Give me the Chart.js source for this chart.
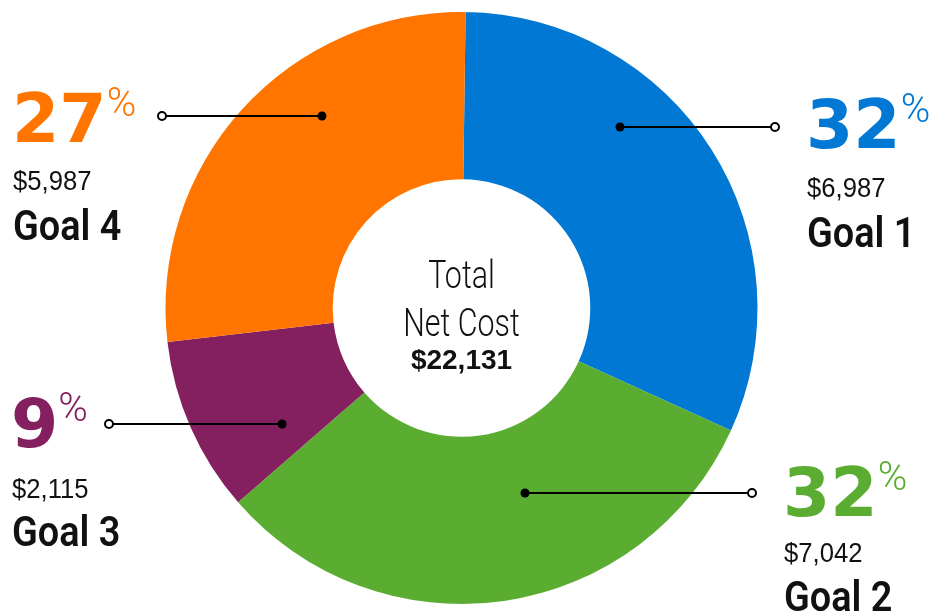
<!DOCTYPE html>
<html>
<head>
<meta charset="utf-8">
<script src="https://cdn.jsdelivr.net/npm/chart.js@4.4.1/dist/chart.umd.min.js"></script>
<style>
  html, body { margin: 0; padding: 0; background: #fff; }
  #wrap { width: 936px; height: 616px; }
</style>
</head>
<body>
<div id="wrap"><canvas id="goalChart" width="936" height="616"></canvas></div>
<script>
// data
const goals = ['Goal 1', 'Goal 2', 'Goal 3', 'Goal 4'];
const netCost = [6987, 7042, 2115, 5987];
const pctLabels = [32, 32, 9, 27];
const colors = ['#0078d4', '#5bad32', '#842060', '#ff7500'];

// where each callout sits (pixels on the canvas)
const callouts = [
    { x: 806, pctBase: 148, amtBase: 197, nameBase: 247, dot: [620, 127], ring: [775, 127] },
    { x: 783, pctBase: 516, amtBase: 562, nameBase: 611, dot: [525, 493], ring: [752, 493] },
    { x: 11, pctBase: 447, amtBase: 498, nameBase: 546, dot: [282, 424], ring: [109, 424] },
    { x: 12, pctBase: 142, amtBase: 190, nameBase: 240, dot: [322, 116], ring: [162, 116] }
];

const total = netCost.reduce((a, b) => a + b, 0);
const money = v => '$' + v.toLocaleString('en-US');

// draws text squeezed horizontally (the original uses a condensed face)
function squeezed(ctx, text, x, y, sx) {
    ctx.save();
    ctx.translate(x, y);
    ctx.scale(sx, 1);
    ctx.fillText(text, 0, 0);
    ctx.restore();
}

const calloutPlugin = {
    id: 'callouts',
    afterDraw(chart) {
        const ctx = chart.ctx;
        const arc = chart.getDatasetMeta(0).data[0];
        ctx.save();

        // center text
        ctx.textAlign = 'center';
        ctx.textBaseline = 'alphabetic';
        ctx.fillStyle = '#111';
        ctx.font = '300 38px Roboto, "Liberation Sans", sans-serif';
        squeezed(ctx, 'Total', arc.x, 288, 0.8);
        squeezed(ctx, 'Net Cost', arc.x, 336, 0.8);
        ctx.font = 'bold 28px "Liberation Sans", sans-serif';
        ctx.fillText(money(total), arc.x, 369);

        goals.forEach((g, i) => {
            const c = callouts[i];
            // leader line
            ctx.strokeStyle = '#000';
            ctx.lineWidth = 2;
            ctx.beginPath();
            ctx.moveTo(c.dot[0], c.dot[1]);
            ctx.lineTo(c.ring[0], c.ring[1]);
            ctx.stroke();
            ctx.fillStyle = '#000';
            ctx.beginPath();
            ctx.arc(c.dot[0], c.dot[1], 4.5, 0, Math.PI * 2);
            ctx.fill();
            ctx.fillStyle = '#fff';
            ctx.lineWidth = 2;
            ctx.beginPath();
            ctx.arc(c.ring[0], c.ring[1], 4, 0, Math.PI * 2);
            ctx.fill();
            ctx.stroke();

            // percentage
            ctx.textAlign = 'left';
            ctx.fillStyle = colors[i];
            ctx.font = 'bold 68px "DejaVu Sans", sans-serif';
            const num = String(pctLabels[i]);
            ctx.fillText(num, c.x, c.pctBase);
            const w = ctx.measureText(num).width;
            ctx.font = '300 40px Roboto, "Liberation Sans", sans-serif';
            ctx.fillText('%', c.x + w, c.pctBase - 26);

            // amount and name
            ctx.fillStyle = '#111';
            ctx.font = '27px "Liberation Sans", sans-serif';
            squeezed(ctx, money(netCost[i]), c.x + 1, c.amtBase, 0.95);
            ctx.font = '600 43px Roboto, "DejaVu Sans Condensed", sans-serif';
            squeezed(ctx, g, c.x + 1, c.nameBase, 0.88);
        });
        ctx.restore();
    }
};

new Chart(document.getElementById('goalChart').getContext('2d'), {
    type: 'doughnut',
    data: {
        labels: goals,
        datasets: [{
            data: netCost,
            backgroundColor: colors,
            borderWidth: 0
        }]
    },
    options: {
        responsive: false,
        animation: false,
        cutout: '43.5%',
        rotation: 0.8,
        layout: {
            padding: { top: 12, bottom: 12, left: 0, right: 13 }
        },
        plugins: {
            legend: { display: false },
            tooltip: { enabled: false }
        }
    },
    plugins: [calloutPlugin]
});
</script>
</body>
</html>
